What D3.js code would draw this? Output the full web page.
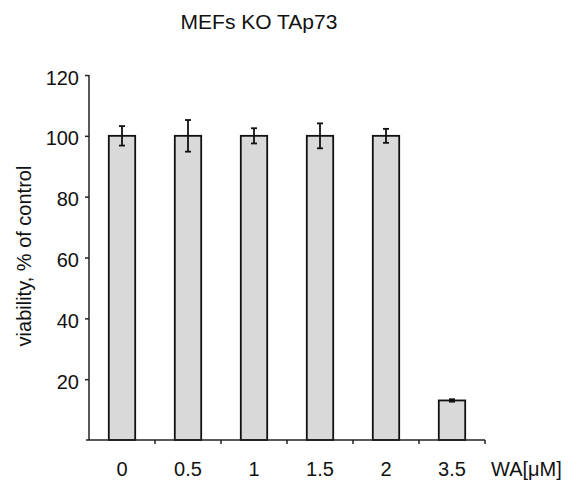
<!DOCTYPE html>
<html><head><meta charset="utf-8">
<script src="https://cdn.jsdelivr.net/npm/d3@7"></script>
<style>body{margin:0;background:#fff}svg{display:block}</style>
</head><body>
<script>
const categories = ["0", "0.5", "1", "1.5", "2", "3.5"];
const values = [100, 100, 100, 100, 100, 13];
const errors = [3.2, 5.2, 2.5, 4.1, 2.3, 0.4];
const yTicks = [20, 40, 60, 80, 100, 120];
const title = "MEFs KO TAp73";
const yLabel = "viability, % of control";
const xUnit = "WA[\u03bcM]";

const W = 574, H = 481;
const FS = 20;
const svg = d3.select("body").append("svg").attr("width", W).attr("height", H)
  .style("font-family", "'Liberation Sans', Arial, sans-serif");

const x0 = 89, x1 = 485, yTop = 75, yBase = 440;
const x = d3.scaleBand().domain(categories).range([x0, x1]).paddingInner(0.6).paddingOuter(0.3);
const y = d3.scaleLinear().domain([0, 120]).range([yBase, yTop]);
const axisColor = "#222";

// bars
svg.selectAll("rect.bar").data(values).join("rect")
  .attr("x", (d, i) => x(categories[i]))
  .attr("y", d => y(d))
  .attr("width", x.bandwidth())
  .attr("height", d => y(0) - y(d))
  .attr("fill", "#d9d9d9").attr("stroke", "#111").attr("stroke-width", 1.8);

// error bars
const eg = svg.append("g").attr("stroke", "#111").attr("stroke-width", 1.8);
values.forEach((v, i) => {
  const cx = x(categories[i]) + x.bandwidth() / 2;
  eg.append("line").attr("x1", cx).attr("x2", cx).attr("y1", y(v + errors[i])).attr("y2", y(v - errors[i]));
  eg.append("line").attr("x1", cx - 3).attr("x2", cx + 3).attr("y1", y(v + errors[i])).attr("y2", y(v + errors[i]));
  eg.append("line").attr("x1", cx - 3).attr("x2", cx + 3).attr("y1", y(v - errors[i])).attr("y2", y(v - errors[i]));
});

// y axis
const yAxis = d3.axisLeft(y).tickValues(yTicks).tickSize(4).tickPadding(6);
const gy = svg.append("g").attr("transform", `translate(${x0},0)`).call(yAxis);
gy.select(".domain").attr("d", `M0,${yTop}V${yBase}`).attr("stroke", axisColor).attr("stroke-width", 1.5);
gy.selectAll(".tick line").attr("stroke", axisColor).attr("stroke-width", 1.5);
gy.selectAll(".tick text").attr("font-size", FS).attr("fill", "#111").attr("dy", "0.45em")
  .attr("font-family", "'Liberation Sans', Arial, sans-serif");

// x axis
const boundaries = d3.range(categories.length + 1).map(i => x0 + i * (x1 - x0) / categories.length);
const gx = svg.append("g");
gx.append("line").attr("x1", x0 - 3).attr("x2", x1).attr("y1", yBase).attr("y2", yBase)
  .attr("stroke", axisColor).attr("stroke-width", 1.5);
gx.selectAll("line.tk").data(boundaries.slice(1)).join("line")
  .attr("x1", d => d).attr("x2", d => d).attr("y1", yBase).attr("y2", yBase + 4)
  .attr("stroke", axisColor).attr("stroke-width", 1.5);
gx.selectAll("text").data(categories).join("text")
  .attr("x", d => x(d) + x.bandwidth() / 2).attr("y", 476)
  .attr("text-anchor", "middle").attr("font-size", FS).attr("fill", "#111").text(d => d);
svg.append("text").attr("x", 491).attr("y", 476).attr("font-size", FS).attr("fill", "#111").text(xUnit);

// title
svg.append("text").attr("x", 259).attr("y", 29).attr("text-anchor", "middle")
  .attr("font-size", 21).attr("fill", "#111").text(title);

// y label
svg.append("text").attr("transform", "translate(31,256) rotate(-90)")
  .attr("text-anchor", "middle").attr("font-size", FS).attr("fill", "#111").text(yLabel);
</script>
</body></html>
